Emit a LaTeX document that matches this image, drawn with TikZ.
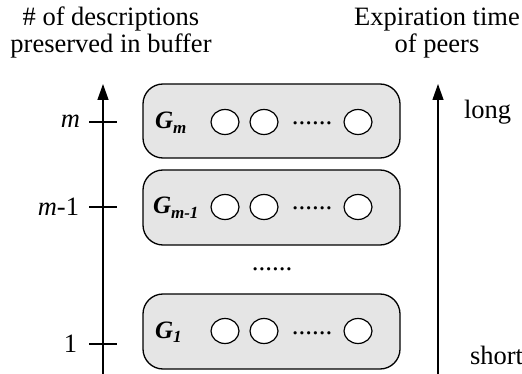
\documentclass[tikz,border=0pt]{standalone}
\usepackage{fontspec}
\setmainfont{Liberation Serif}
\usetikzlibrary{arrows.meta,shapes.geometric}
\begin{document}
\begin{tikzpicture}[x=1pt,y=-1pt,
  every node/.style={inner sep=0pt,outer sep=0pt},
  lbl/.style={font=\fontsize{26.5}{27}\selectfont},
  grp/.style={draw=black,line width=1.3pt,fill=black!10,rounded corners=20pt},
  peer/.style={draw=black,line width=1.2pt,fill=white,ellipse,minimum width=28pt,minimum height=25pt},
  gname/.style={font=\fontsize{25}{25}\selectfont\bfseries\itshape,anchor=base west},
  dots/.style={font=\fontsize{27}{27}\selectfont,anchor=base},
  axis/.style={line width=1.3pt,-{Triangle[length=16pt,width=11pt]}},
  tick/.style={line width=1.3pt}]
\useasboundingbox (0,0) rectangle (522,374);

% axis titles (base anchor sits on the last line)
\node[lbl,align=center,anchor=base] (ltitle) at (111,53) {\# of descriptions\\preserved in buffer};
\node[lbl,align=center,anchor=base] (rtitle) at (437,53) {Expiration time\\of peers};

% vertical axes
\coordinate (lbot) at (103,374);
\coordinate (ltop) at (103,84);
\coordinate (rbot) at (438,374);
\coordinate (rtop) at (438,84);
\draw[axis] (lbot) -- (ltop);
\draw[axis] (rbot) -- (rtop);

% ticks on the left axis
\coordinate (tma) at (89,122);  \coordinate (tmb) at (117,122);
\coordinate (tna) at (89,207);  \coordinate (tnb) at (117,207);
\coordinate (toa) at (89,344);  \coordinate (tob) at (117,344);
\draw[tick] (tma) -- (tmb);
\draw[tick] (tna) -- (tnb);
\draw[tick] (toa) -- (tob);

\node[lbl,anchor=base east] (lm) at (80,128) {\itshape m};
\node[lbl,anchor=base east] (lm1) at (79,215) {\textit{m}-1};
\node[lbl,anchor=base east] (l1) at (77,352) {1};

\node[lbl,anchor=base west] (long) at (464,119) {long};
\node[lbl,anchor=base west] (short) at (470,364) {short};

% groups of peers
\draw[grp] (143,84) rectangle (400,158);
\draw[grp] (143,170) rectangle (400,245);
\draw[grp] (143,294) rectangle (400,369);

\node[gname] (gm) at (155,129) {G\raisebox{-0.35ex}{\fontsize{17}{17}\selectfont m}};
\node[gname] (gm1) at (153,214) {G\raisebox{-0.35ex}{\fontsize{17}{17}\selectfont m-1}};
\node[gname] (g1) at (155,338) {G\raisebox{-0.35ex}{\fontsize{17}{17}\selectfont 1}};

\foreach \r/\y in {a/122,b/207,c/331}{
  \node[peer] (p\r1) at (225,\y) {};
  \node[peer] (p\r2) at (264,\y) {};
  \node[peer] (p\r3) at (358,\y) {};
  \node[dots] (d\r) at (312,\y+3) {......};
}

\node[dots] (vdots) at (272,270) {......};
\end{tikzpicture}
\end{document}
